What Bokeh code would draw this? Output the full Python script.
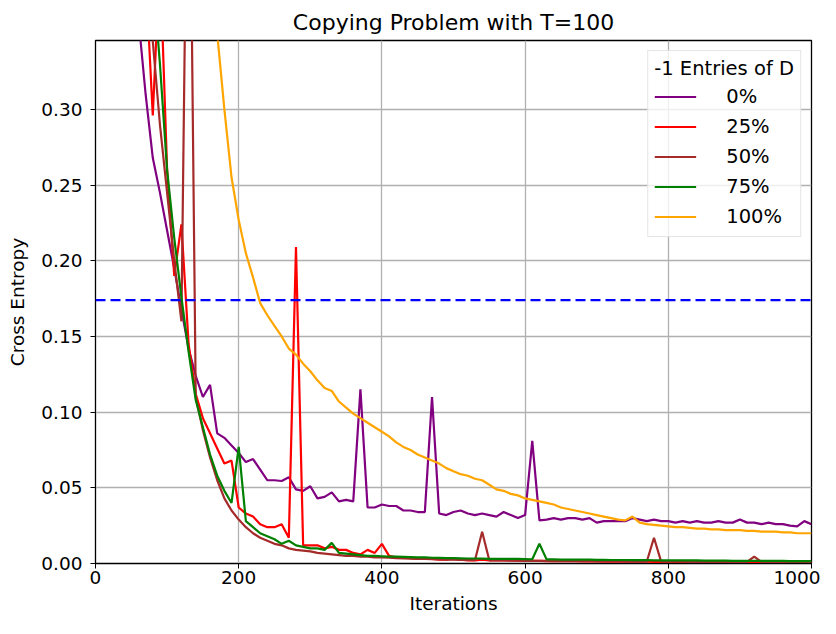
from bokeh.plotting import figure
from bokeh.models import Span, Legend, LegendItem, FixedTicker, Range1d, NumeralTickFormatter
from bokeh.embed import file_html
from bokeh.resources import INLINE

iterations = list(range(0, 1001, 10))

loss_0 = [0.70, 0.66, 0.61, 0.56, 0.50, 0.43, 0.36, 0.31, 0.268, 0.245,
          0.22, 0.195, 0.168, 0.142, 0.124, 0.110, 0.118, 0.086, 0.083, 0.078,
          0.073, 0.067, 0.069, 0.062, 0.055, 0.055, 0.0545, 0.057, 0.049, 0.048,
          0.051, 0.043, 0.044, 0.047, 0.041, 0.042, 0.041, 0.115, 0.037, 0.037,
          0.039, 0.038, 0.038, 0.035, 0.035, 0.034, 0.034, 0.110, 0.033, 0.032,
          0.034, 0.035, 0.033, 0.032, 0.033, 0.032, 0.031, 0.034, 0.032, 0.030,
          0.032, 0.081, 0.0285, 0.029, 0.030, 0.029, 0.030, 0.030, 0.029, 0.030,
          0.027, 0.028, 0.028, 0.028, 0.028, 0.030, 0.029, 0.028, 0.029, 0.028,
          0.028, 0.027, 0.028, 0.027, 0.028, 0.027, 0.027, 0.028, 0.027, 0.027,
          0.029, 0.027, 0.027, 0.026, 0.027, 0.026, 0.026, 0.025, 0.0245, 0.028,
          0.026]

loss_25 = [0.70, 0.67, 0.63, 0.58, 0.53, 0.48, 0.43, 0.39, 0.296, 0.40,
           0.26, 0.19, 0.224, 0.145, 0.112, 0.096, 0.086, 0.076, 0.066, 0.068,
           0.037, 0.033, 0.031, 0.026, 0.024, 0.024, 0.026, 0.017, 0.209, 0.012,
           0.012, 0.012, 0.010, 0.011, 0.009, 0.009, 0.007, 0.006, 0.009, 0.007,
           0.013, 0.005, 0.004, 0.004, 0.0035, 0.003, 0.003, 0.003, 0.0025, 0.0025,
           0.003, 0.0025, 0.002, 0.002, 0.0025, 0.002, 0.002, 0.002, 0.002, 0.0018,
           0.002, 0.0018, 0.0017, 0.0016, 0.0016, 0.0015, 0.0015, 0.0015, 0.0014, 0.0014,
           0.0014, 0.0013, 0.0013, 0.0013, 0.0012, 0.0012, 0.0012, 0.0012, 0.0011, 0.0011,
           0.0011, 0.0011, 0.0011, 0.0010, 0.0010, 0.0010, 0.0010, 0.0010, 0.0010, 0.0009,
           0.0009, 0.0009, 0.0009, 0.0009, 0.0009, 0.0009, 0.0008, 0.0008, 0.0008, 0.0008,
           0.0008]

loss_50 = [0.70, 0.68, 0.64, 0.60, 0.55, 0.50, 0.45, 0.40, 0.345, 0.29,
           0.245, 0.20, 0.16, 0.56, 0.11, 0.088, 0.070, 0.055, 0.043, 0.035,
           0.029, 0.024, 0.020, 0.017, 0.015, 0.013, 0.012, 0.010, 0.009, 0.0085,
           0.008, 0.007, 0.0065, 0.006, 0.0055, 0.005, 0.005, 0.0045, 0.0045, 0.004,
           0.004, 0.0038, 0.0035, 0.0033, 0.0032, 0.003, 0.003, 0.0028, 0.0027, 0.0026,
           0.0025, 0.0024, 0.0023, 0.0022, 0.021, 0.0021, 0.002, 0.002, 0.0019, 0.0019,
           0.0018, 0.0018, 0.0017, 0.0017, 0.0016, 0.0016, 0.0016, 0.0015, 0.0015, 0.0015,
           0.0014, 0.0014, 0.0014, 0.0014, 0.0013, 0.0013, 0.0013, 0.0013, 0.017, 0.0012,
           0.0012, 0.0012, 0.0012, 0.0011, 0.0011, 0.0011, 0.0011, 0.0011, 0.0011, 0.0010,
           0.0010, 0.0010, 0.0045, 0.0010, 0.0010, 0.0010, 0.0009, 0.0009, 0.0009, 0.0009,
           0.0009]

loss_75 = [0.70, 0.68, 0.65, 0.62, 0.58, 0.54, 0.49, 0.44, 0.39, 0.33,
           0.26, 0.215, 0.176, 0.14, 0.108, 0.090, 0.072, 0.058, 0.048, 0.040,
           0.077, 0.028, 0.024, 0.020, 0.018, 0.016, 0.013, 0.015, 0.012, 0.011,
           0.010, 0.010, 0.009, 0.0136, 0.007, 0.0065, 0.006, 0.0055, 0.005, 0.005,
           0.0048, 0.0046, 0.0045, 0.0044, 0.0042, 0.004, 0.004, 0.0038, 0.0037, 0.0036,
           0.0035, 0.0034, 0.0033, 0.0033, 0.0032, 0.0031, 0.0031, 0.003, 0.003, 0.003,
           0.0029, 0.0028, 0.013, 0.0027, 0.0027, 0.0026, 0.0026, 0.0025, 0.0025, 0.0025,
           0.0024, 0.0024, 0.0023, 0.0023, 0.0023, 0.0022, 0.0022, 0.0022, 0.0021, 0.0021,
           0.0021, 0.0020, 0.0020, 0.0020, 0.0020, 0.0019, 0.0019, 0.0019, 0.0019, 0.0018,
           0.0018, 0.0018, 0.0018, 0.0017, 0.0017, 0.0017, 0.0017, 0.0016, 0.0016, 0.0016,
           0.0016]

loss_100 = [0.69, 0.68, 0.67, 0.66, 0.65, 0.63, 0.61, 0.59, 0.57, 0.55,
            0.52, 0.49, 0.47, 0.45, 0.44, 0.43, 0.41, 0.35, 0.30, 0.255,
            0.227, 0.205, 0.189, 0.172, 0.164, 0.157, 0.150, 0.142, 0.138, 0.132,
            0.127, 0.121, 0.116, 0.114, 0.107, 0.103, 0.099, 0.096, 0.093, 0.090,
            0.087, 0.084, 0.080, 0.077, 0.075, 0.072, 0.070, 0.068, 0.066, 0.063,
            0.061, 0.059, 0.058, 0.056, 0.055, 0.052, 0.049, 0.048, 0.046, 0.045,
            0.043, 0.042, 0.041, 0.040, 0.039, 0.037, 0.036, 0.035, 0.034, 0.033,
            0.032, 0.031, 0.030, 0.029, 0.0285, 0.031, 0.027, 0.026, 0.0255, 0.025,
            0.0245, 0.024, 0.024, 0.0235, 0.023, 0.023, 0.0225, 0.0225, 0.022, 0.022,
            0.022, 0.0215, 0.0215, 0.021, 0.021, 0.021, 0.0205, 0.0205, 0.020, 0.020,
            0.020]

series_labels = ["0%", "25%", "50%", "75%", "100%"]
series_values = [loss_0, loss_25, loss_50, loss_75, loss_100]
series_colors = ["purple", "red", "brown", "green", "orange"]

threshold = 0.174
x_ticks = [0, 200, 400, 600, 800, 1000]
y_ticks = [0.0, 0.05, 0.10, 0.15, 0.20, 0.25, 0.30]

FONT = "DejaVu Sans"
FS = "18.5px"

p = figure(width=820, height=618, output_backend="svg", toolbar_location=None,
           x_range=Range1d(0, 1000), y_range=Range1d(0, 0.3455),
           min_border_left=95, min_border_right=9, min_border_top=40, min_border_bottom=55,
           title="Copying Problem with T=100")

p.title.text_font = FONT
p.title.text_font_size = "22px"
p.title.text_font_style = "normal"
p.title.align = "center"
p.title.text_color = "black"
p.title.standoff = 12

items = []
for lab, vals, col in zip(series_labels, series_values, series_colors):
    r = p.line(iterations, vals, line_color=col, line_width=2.2)
    items.append(LegendItem(label=lab, renderers=[r]))

p.add_layout(Span(location=threshold, dimension="width", line_color="blue",
                  line_width=2.2, line_dash="10 5"))

p.xaxis.ticker = FixedTicker(ticks=x_ticks)
p.yaxis.ticker = FixedTicker(ticks=y_ticks)
p.yaxis.formatter = NumeralTickFormatter(format="0.00")

for ax in (p.xaxis[0], p.yaxis[0]):
    ax.major_label_text_font = FONT
    ax.major_label_text_font_size = FS
    ax.major_label_text_color = "black"
    ax.axis_label_text_font = FONT
    ax.axis_label_text_font_size = FS
    ax.axis_label_text_font_style = "normal"
    ax.axis_label_text_color = "black"
    ax.axis_line_color = "black"
    ax.major_tick_line_color = "black"
    ax.major_tick_out = 5
    ax.major_tick_in = 0
    ax.minor_tick_out = 0
    ax.minor_tick_in = 0

p.xaxis.major_label_standoff = 2
p.yaxis.major_label_standoff = 8
p.xaxis.axis_label = "Iterations"
p.yaxis.axis_label = "Cross Entropy"
p.xaxis.axis_label_standoff = 6
p.yaxis.axis_label_standoff = 10

p.xgrid.grid_line_color = "#b0b0b0"
p.ygrid.grid_line_color = "#b0b0b0"
p.xgrid.grid_line_width = 1.3
p.ygrid.grid_line_width = 1.3
p.outline_line_color = "black"
p.outline_line_width = 1.3

legend = Legend(items=items, location="top_right", title="-1 Entries of D")
legend.title_text_font = FONT
legend.title_text_font_size = "19.5px"
legend.title_text_font_style = "normal"
legend.title_text_color = "black"
legend.label_text_font = FONT
legend.label_text_font_size = "19.5px"
legend.label_text_color = "black"
legend.glyph_width = 42
legend.glyph_height = 27
legend.label_height = 27
legend.spacing = 3
legend.label_standoff = 30
legend.padding = 6
legend.margin = 10
legend.border_line_color = "#cccccc"
legend.border_line_width = 1
legend.background_fill_alpha = 0.8
legend.title_standoff = 3
p.add_layout(legend)

open("out.html", "w").write(file_html(p, INLINE))
